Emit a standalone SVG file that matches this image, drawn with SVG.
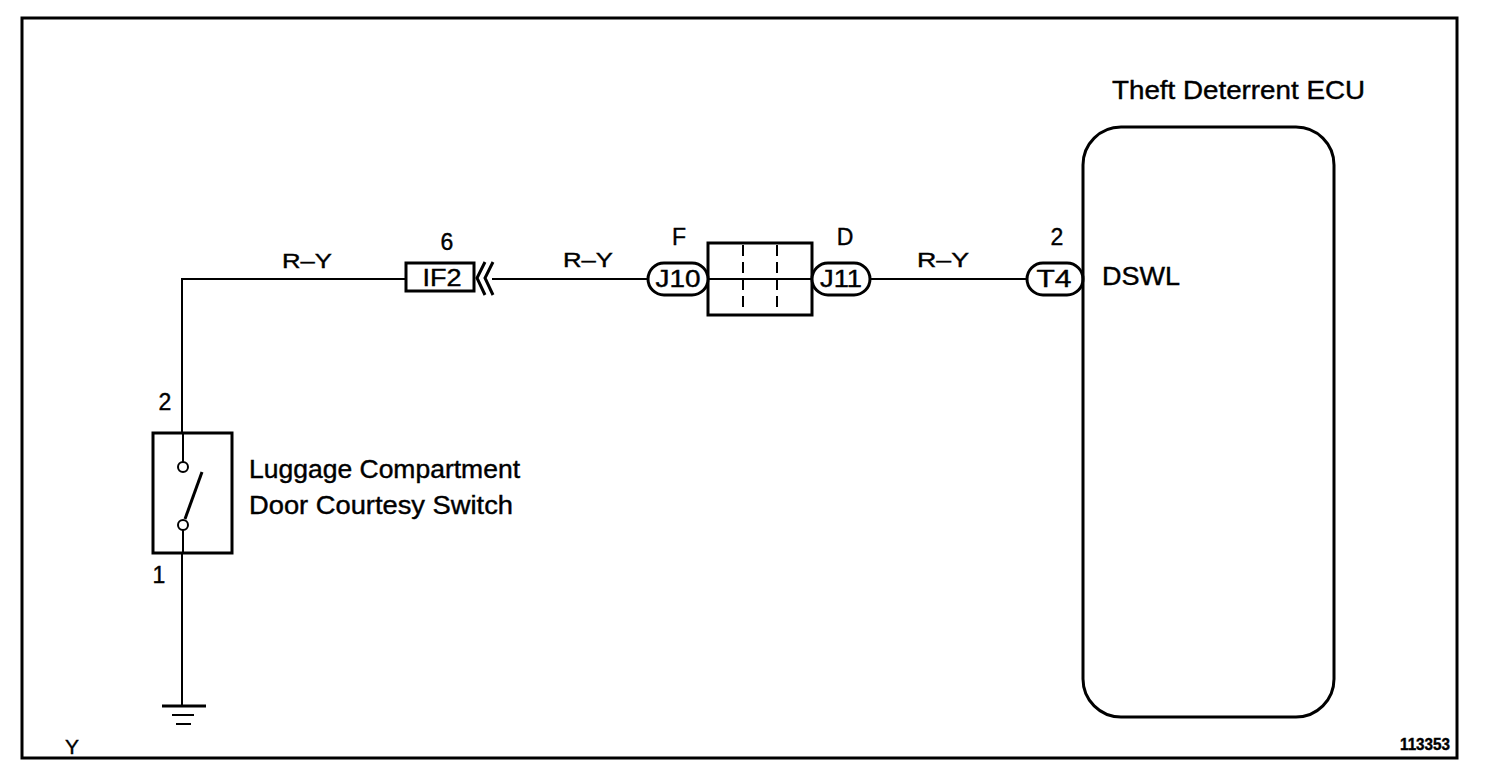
<svg xmlns="http://www.w3.org/2000/svg" width="1504" height="774" viewBox="0 0 1504 774">
<style>
text{font-family:"Liberation Sans",Arial,sans-serif;fill:#000;stroke:#000;stroke-width:0.4}
.w{stroke:#000;stroke-width:2;fill:none}
.b{stroke:#000;stroke-width:3;fill:#fff}
.pill{stroke:#000;stroke-width:3;fill:#fff}
.lbl{font-size:21px}
.big{font-size:25px}
.pin{font-size:23px;text-anchor:middle}
</style>
<rect width="1504" height="774" fill="#fff"/>
<rect x="22" y="18" width="1435" height="740" fill="none" stroke="#000" stroke-width="3"/>
<g id="connectors">
<polyline class="w" points="182,705 182,279 406,279"/>
<line class="w" x1="492" y1="279" x2="647" y2="279"/>
<line class="w" x1="870" y1="279" x2="1027" y2="279"/>
</g>
<g id="ground">
<line x1="162" y1="706" x2="206" y2="706" stroke="#000" stroke-width="3"/>
<line x1="172" y1="715" x2="194" y2="715" stroke="#000" stroke-width="2"/>
<line x1="176" y1="724" x2="191" y2="724" stroke="#000" stroke-width="2"/>
</g>
<g id="switch">
<rect class="b" x="153" y="433" width="79" height="120"/>
<line class="w" x1="183" y1="433" x2="183" y2="462"/>
<line class="w" x1="183" y1="530" x2="183" y2="553"/>
<circle cx="183" cy="467" r="5" fill="#fff" stroke="#000" stroke-width="2"/>
<circle cx="183" cy="525" r="5" fill="#fff" stroke="#000" stroke-width="2"/>
<line x1="185" y1="519" x2="202" y2="472" stroke="#000" stroke-width="3"/>
<text class="pin" x="165" y="410">2</text>
<text class="pin" x="159" y="583">1</text>
<text class="big" x="249" y="478" textLength="271" lengthAdjust="spacingAndGlyphs">Luggage Compartment</text>
<text class="big" x="249" y="514" textLength="264" lengthAdjust="spacingAndGlyphs">Door Courtesy Switch</text>
</g>
<g id="if2">
<rect class="b" x="406" y="263" width="68" height="28" stroke-width="2.5"/>
<text class="pin" x="442" y="286" textLength="39" lengthAdjust="spacingAndGlyphs">IF2</text>
<text class="pin" x="447" y="250">6</text>
<polyline points="485,262 477,278 485,295" fill="none" stroke="#000" stroke-width="3"/>
<polyline points="493,262 485,278 493,295" fill="none" stroke="#000" stroke-width="3"/>
</g>
<g id="labels">
<text class="lbl" x="282" y="268" textLength="50" lengthAdjust="spacingAndGlyphs">R–Y</text>
<text class="lbl" x="563" y="267" textLength="50" lengthAdjust="spacingAndGlyphs">R–Y</text>
<text class="lbl" x="917" y="267" textLength="52" lengthAdjust="spacingAndGlyphs">R–Y</text>
</g>
<g id="junction">
<rect class="b" x="708" y="243" width="104" height="72"/>
<line class="w" x1="708" y1="279" x2="812" y2="279"/>
<line x1="743" y1="245" x2="743" y2="313" stroke="#000" stroke-width="2" stroke-dasharray="11 6"/>
<line x1="777" y1="245" x2="777" y2="313" stroke="#000" stroke-width="2" stroke-dasharray="11 6"/>
<text class="pin" x="679" y="245">F</text>
<text class="pin" x="845" y="245">D</text>
</g>
<g id="j10">
<rect class="pill" x="648" y="263" width="60" height="32" rx="16"/>
<text class="pin" x="678" y="287" textLength="45" lengthAdjust="spacingAndGlyphs">J10</text>
</g>
<g id="j11">
<rect class="pill" x="812" y="263" width="58" height="32" rx="16"/>
<text class="pin" x="841" y="287" textLength="42" lengthAdjust="spacingAndGlyphs">J11</text>
</g>
<g id="t4">
<rect class="pill" x="1027" y="263" width="56" height="32" rx="16"/>
<text class="pin" x="1054" y="287" textLength="35" lengthAdjust="spacingAndGlyphs">T4</text>
<text class="pin" x="1057" y="245">2</text>
</g>
<g id="ecu">
<rect x="1083" y="127" width="251" height="590" rx="38" fill="none" stroke="#000" stroke-width="3"/>
<text class="big" x="1112" y="99" textLength="253" lengthAdjust="spacingAndGlyphs">Theft Deterrent ECU</text>
<text class="big" x="1102" y="285" textLength="78" lengthAdjust="spacingAndGlyphs">DSWL</text>
</g>
<text x="65" y="754" font-size="21">Y</text>
<text x="1400" y="750" font-size="16" font-weight="bold" textLength="50" lengthAdjust="spacingAndGlyphs">113353</text>
</svg>
